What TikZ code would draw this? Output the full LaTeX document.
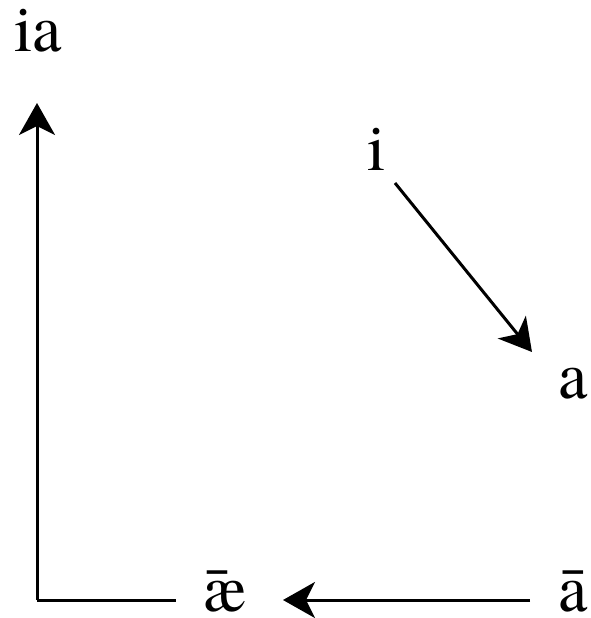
\documentclass[tikz,border=0pt]{standalone}
\usepackage{fontspec}
\setmainfont{TeX Gyre Termes}
\usetikzlibrary{arrows.meta}
\begin{document}
\begin{tikzpicture}[x=1pt,y=-1pt,
  lbl/.style={anchor=base west,inner sep=0pt,text depth=0pt,font=\rmfamily\fontsize{66}{70}\selectfont},
  ln/.style={line width=3pt},
  arr/.style={ln,-{Stealth[length=32pt,width=36pt,inset=9pt]}}]
\useasboundingbox (0,0) rectangle (590,618);
\node[lbl] (ia) at (14,52) {ia};
\node[lbl] (i) at (367,170) {i};
\node[lbl] (a) at (558,398) {a};
\node[lbl] (ae) at (203,611) {\rlap{\ae}\kern3pt\char"AF};
\node[lbl] (abar) at (558,611) {ā};
\coordinate (corner) at (37,600);
\coordinate (top) at (37,103);
\coordinate (hend) at (176,600);
\coordinate (ls) at (530,600);
\coordinate (lt) at (283,600);
\coordinate (ds) at (395,183);
\coordinate (dt) at (532,352);
\draw[arr] (corner) -- (top);
\draw[ln] (corner) -- (hend);
\draw[arr] (ls) -- (lt);
\draw[arr] (ds) -- (dt);
\end{tikzpicture}
\end{document}
